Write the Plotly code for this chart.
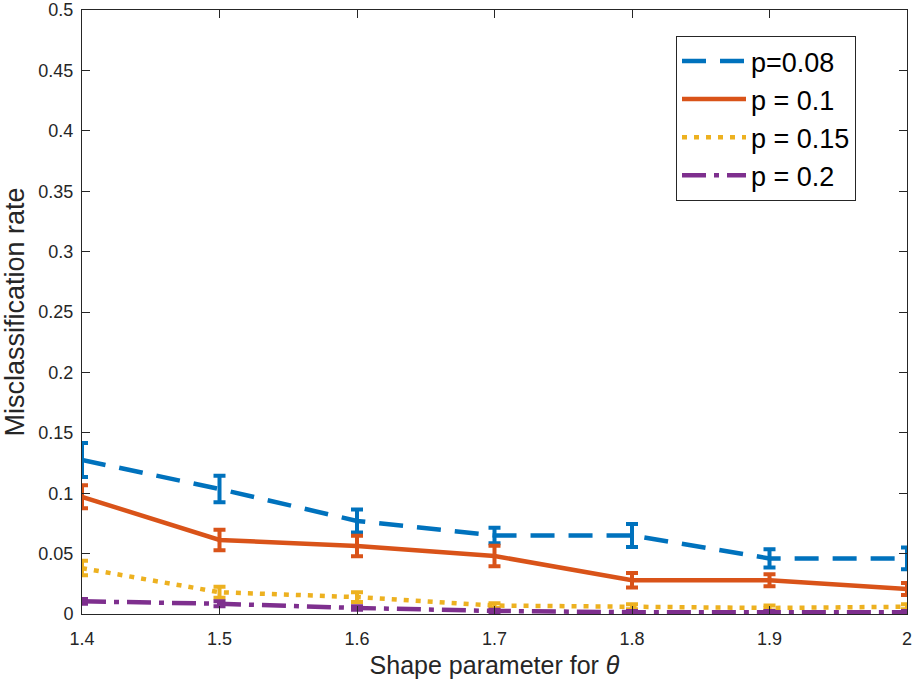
import plotly.graph_objects as go

x = [1.4, 1.5, 1.6, 1.7, 1.8, 1.9, 2.0]

p008 = [0.1275, 0.1035, 0.077, 0.065, 0.065, 0.046, 0.046]
p008_err = [0.014, 0.011, 0.0095, 0.0065, 0.0095, 0.0075, 0.009]
p010 = [0.097, 0.0613, 0.0563, 0.048, 0.028, 0.028, 0.0207]
p010_err = [0.0095, 0.0085, 0.0085, 0.0085, 0.006, 0.005, 0.005]
p015 = [0.038, 0.018, 0.014, 0.007, 0.006, 0.005, 0.006]
p015_err = [0.006, 0.0045, 0.004, 0.002, 0.002, 0.002, 0.002]
p020 = [0.0105, 0.0085, 0.005, 0.0025, 0.0015, 0.0015, 0.0015]
p020_err = [0.002, 0.002, 0.0015, 0.001, 0.001, 0.001, 0.001]

names = ["p=0.08", "p = 0.1", "p = 0.15", "p = 0.2"]
colors = ["#0072BD", "#D95319", "#EDB120", "#7E2F8E"]
dashes = ["24px,14px", "solid", "5px,7px", "24px,8px,5px,8px"]
series = [(p008, p008_err), (p010, p010_err), (p015, p015_err), (p020, p020_err)]

fig = go.Figure()
for (y, e), n, c, d in zip(series, names, colors, dashes):
    fig.add_trace(go.Scatter(
        x=x, y=y, name=n, mode="lines",
        line=dict(color=c, width=4.5, dash=d),
        error_y=dict(type="data", array=e, visible=True, color=c, thickness=4, width=6),
    ))

font = "Liberation Sans, Arial, sans-serif"
fig.update_layout(
    width=923, height=692,
    margin=dict(l=82, r=16, t=10, b=78),
    paper_bgcolor="white", plot_bgcolor="white",
    font=dict(family=font, color="#262626"),
    showlegend=True,
    legend=dict(
        x=0.72, y=0.957, xanchor="left", yanchor="top",
        bgcolor="white", bordercolor="#262626", borderwidth=1,
        font=dict(size=27, color="black", family=font),
        tracegroupgap=0, itemwidth=64,
    ),
    xaxis=dict(
        range=[1.4, 2.0], tickvals=[1.4, 1.5, 1.6, 1.7, 1.8, 1.9, 2.0],
        ticktext=["1.4", "1.5", "1.6", "1.7", "1.8", "1.9", "2"],
        ticks="inside", ticklen=8, tickcolor="#262626", tickwidth=1,
        showline=True, linecolor="#262626", linewidth=1, mirror="ticks",
        showgrid=False, zeroline=False, automargin=False,
        tickfont=dict(size=18, color="#262626"), ticklabelstandoff=8,
        title=dict(text="Shape parameter for <i>θ</i>", font=dict(size=25, color="#262626"), standoff=8),
    ),
    yaxis=dict(
        range=[0, 0.5], tickvals=[0, 0.05, 0.1, 0.15, 0.2, 0.25, 0.3, 0.35, 0.4, 0.45, 0.5],
        ticktext=["0", "0.05", "0.1", "0.15", "0.2", "0.25", "0.3", "0.35", "0.4", "0.45", "0.5"],
        ticks="inside", ticklen=8, tickcolor="#262626", tickwidth=1,
        showline=True, linecolor="#262626", linewidth=1, mirror="ticks",
        showgrid=False, zeroline=False, automargin=False,
        tickfont=dict(size=18, color="#262626"), ticklabelstandoff=4,
        title=dict(text="Misclassification rate", font=dict(size=27, color="#262626"), standoff=6),
    ),
)
fig.write_html("out.html")
